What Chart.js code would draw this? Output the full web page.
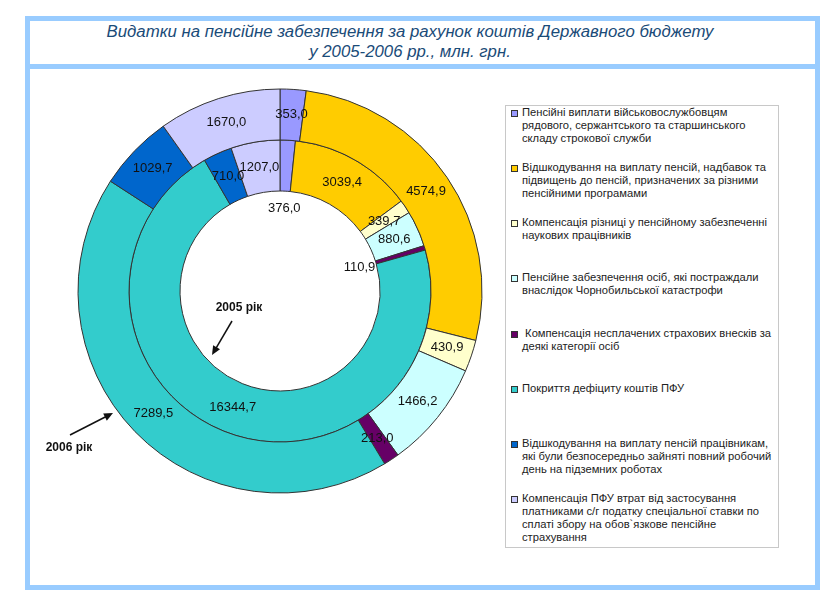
<!DOCTYPE html>
<html>
<head>
<meta charset="utf-8">
<title>Видатки на пенсійне забезпечення</title>
<script src="https://cdn.jsdelivr.net/npm/chart.js@4.4.0/dist/chart.umd.min.js"></script>
<style>
    body { margin: 0; background: #fff; font-family: "Liberation Sans", Arial, sans-serif; }
    #frame { position: absolute; left: 25px; top: 16px; width: 785px; height: 564px; border: 5px solid #99CCFF; }
    #sep { position: absolute; left: 0; top: 43px; width: 100%; height: 5px; background: #99CCFF; }
    #title { position: absolute; left: 30px; top: 22px; width: 760px; text-align: center; font-style: italic;
             font-size: 16.8px; line-height: 20px; color: #1a4b78; }
    #chartBox { position: absolute; left: 30px; top: 70px; width: 500px; height: 442px; }
    #legend { position: absolute; left: 505px; top: 105px; width: 272px; height: 441px; border: 1px solid #c8c8c8;
              background: #fff; display: flex; flex-direction: column; }
    .item { position: relative; flex: 1 1 0; padding-left: 16px; font-size: 11.2px; line-height: 13px; color: #222; }
    .item div { white-space: pre; }
    .swatch { position: absolute; left: 5px; top: 4px; width: 5px; height: 5px; border: 1px solid #333; }
</style>
</head>
<body>
<div id="frame"><div id="sep"></div></div>
<div id="title">Видатки на пенсійне забезпечення за рахунок коштів Державного бюджету<br>у 2005-2006 рр., млн. грн.</div>
<div id="chartBox"><canvas id="pensionChart"></canvas></div>
<div id="legend"></div>

<script>
var categories = [
    ['Пенсійні виплати військовослужбовцям', 'рядового, сержантського та старшинського', 'складу строкової служби'],
    ['Відшкодування на виплату пенсій, надбавок та', 'підвищень до пенсій, призначених за різними', 'пенсійними програмами'],
    ['Компенсація різниці у пенсійному забезпеченні', 'наукових працівників'],
    ['Пенсійне забезпечення осіб, які постраждали', 'внаслідок Чорнобильської катастрофи'],
    [' Компенсація несплачених страхових внесків за', 'деякі категорії осіб'],
    ['Покриття дефіциту коштів ПФУ'],
    ['Відшкодування на виплату пенсій працівникам,', 'які були безпосередньо зайняті повний робочий', 'день на підземних роботах'],
    ['Компенсація ПФУ втрат від застосування', 'платниками с/г податку спеціальної ставки по', 'сплаті збору на обов`язкове пенсійне', 'страхування']
];
var values2006 = [353.0, 4574.9, 430.9, 1466.2, 213.0, 7289.5, 1029.7, 1670.0];
var values2005 = [376.0, 3039.4, 339.7, 880.6, 110.9, 16344.7, 710.0, 1207.0];
var sliceColors = ['#9999FF', '#FFCC00', '#FFFFCC', '#CCFFFF', '#660066', '#33CCCC', '#0066CC', '#CCCCFF'];

// tiny inner slices whose labels sit inside the hole
var holeLabels2005 = [true, false, false, false, true, false, false, false];

function formatValue(v) {
    return v.toFixed(1).replace('.', ',');
}

var valueLabels = {
    id: 'valueLabels',
    afterDatasetsDraw: function(chart) {
        var ctx = chart.ctx;
        ctx.save();
        ctx.font = '13px "Liberation Sans", Arial, sans-serif';
        ctx.fillStyle = '#111';
        ctx.textAlign = 'center';
        ctx.textBaseline = 'middle';
        chart.data.datasets.forEach(function(ds, i) {
            chart.getDatasetMeta(i).data.forEach(function(arc, j) {
                var p = arc.getProps(['x', 'y', 'startAngle', 'endAngle', 'innerRadius', 'outerRadius'], true);
                var mid = (p.startAngle + p.endAngle) / 2;
                var r = (p.innerRadius + p.outerRadius) / 2;
                if (ds.inHole && ds.inHole[j]) r = p.innerRadius - 17;
                ctx.fillText(formatValue(ds.data[j]), p.x + Math.cos(mid) * r, p.y + Math.sin(mid) * r);
            });
        });
        ctx.restore();
    }
};

function drawArrow(ctx, x1, y1, x2, y2) {
    var a = Math.atan2(y2 - y1, x2 - x1);
    ctx.beginPath();
    ctx.moveTo(x1, y1);
    ctx.lineTo(x2 - Math.cos(a) * 6, y2 - Math.sin(a) * 6);
    ctx.stroke();
    ctx.beginPath();
    ctx.moveTo(x2, y2);
    ctx.lineTo(x2 - Math.cos(a) * 9 + Math.sin(a) * 4, y2 - Math.sin(a) * 9 - Math.cos(a) * 4);
    ctx.lineTo(x2 - Math.cos(a) * 9 - Math.sin(a) * 4, y2 - Math.sin(a) * 9 + Math.cos(a) * 4);
    ctx.closePath();
    ctx.fill();
}

var yearNotes = {
    id: 'yearNotes',
    afterDraw: function(chart) {
        var arc = chart.getDatasetMeta(0).data[0];
        var cx = arc.x, cy = arc.y;
        var ctx = chart.ctx;
        ctx.save();
        ctx.font = 'bold 12px "Liberation Sans", Arial, sans-serif';
        ctx.fillStyle = '#111';
        ctx.strokeStyle = '#111';
        ctx.lineWidth = 1.5;
        ctx.textAlign = 'center';
        ctx.textBaseline = 'middle';
        ctx.fillText('2005 рік', cx - 41, cy + 17);
        drawArrow(ctx, cx - 48, cy + 30, cx - 68, cy + 64);
        ctx.fillText('2006 рік', cx - 211, cy + 157);
        drawArrow(ctx, cx - 210, cy + 144, cx - 167, cy + 122);
        ctx.restore();
    }
};

function buildLegend(chart) {
    var box = document.getElementById('legend');
    box.innerHTML = '';
    chart.data.labels.forEach(function(lines, i) {
        var item = document.createElement('div');
        item.className = 'item';
        var sw = document.createElement('span');
        sw.className = 'swatch';
        sw.style.background = chart.data.datasets[0].backgroundColor[i];
        item.appendChild(sw);
        lines.forEach(function(t) {
            var d = document.createElement('div');
            d.textContent = t;
            item.appendChild(d);
        });
        box.appendChild(item);
    });
}

var pensionChart = new Chart(document.getElementById('pensionChart').getContext('2d'), {
    type: 'doughnut',
    data: {
        labels: categories,
        datasets: [{
            label: '2006 рік',
            data: values2006,
            backgroundColor: sliceColors,
            borderColor: '#333',
            borderWidth: 1
        }, {
            label: '2005 рік',
            data: values2005,
            backgroundColor: sliceColors,
            borderColor: '#333',
            borderWidth: 1,
            inHole: holeLabels2005
        }]
    },
    options: {
        responsive: true,
        maintainAspectRatio: false,
        animation: false,
        events: [],
        radius: 202,
        cutout: '49.5%',
        plugins: {
            legend: { display: false },
            tooltip: { enabled: false }
        }
    },
    plugins: [valueLabels, yearNotes]
});

buildLegend(pensionChart);
</script>
</body>
</html>
